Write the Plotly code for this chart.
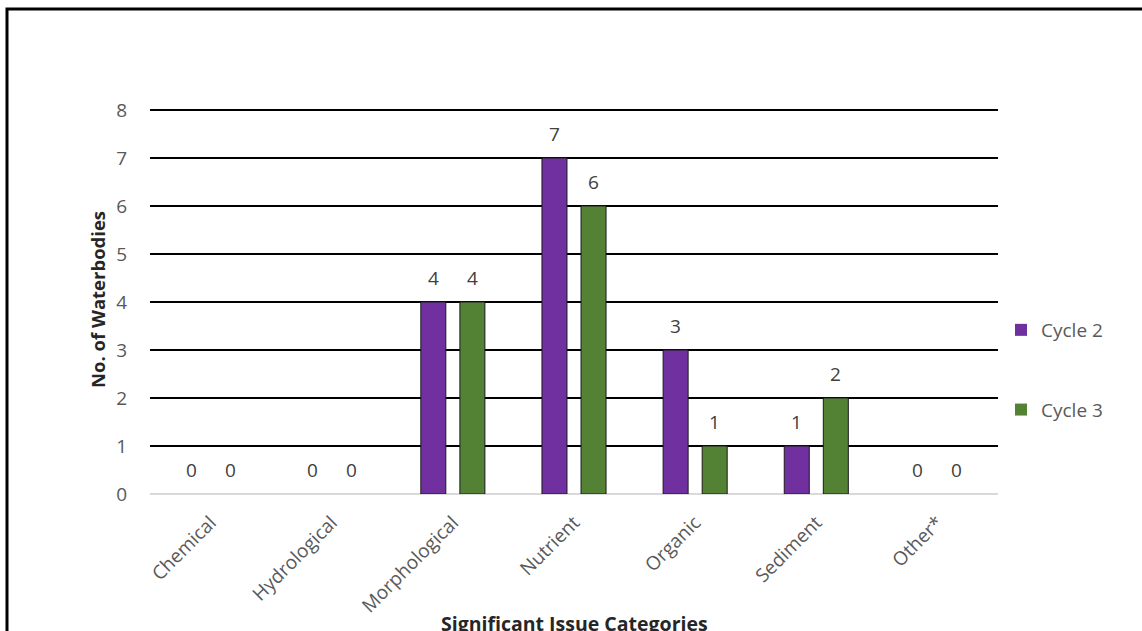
import plotly.graph_objects as go

categories = ["Chemical", "Hydrological", "Morphological", "Nutrient", "Organic", "Sediment", "Other*"]
cycle2 = [0, 0, 4, 7, 3, 1, 0]
cycle3 = [0, 0, 4, 6, 1, 2, 0]
y_ticks = [0, 1, 2, 3, 4, 5, 6, 7, 8]

FONT = "Open Sans"
W, H = 1142, 631
L, R, T, B = 150, 144, 105, 137
pw, ph = W - L - R, H - T - B
Y_TOP = 8 + 5 / 48.0

def px_x(x):
    return (x - L) / pw

def px_y(y):
    return (H - B - y) / ph

series = [("Cycle 2", cycle2, "#7030A0", -19.5), ("Cycle 3", cycle3, "#548235", 19.5)]

fig = go.Figure()
annotations = []
for name, vals, color, shift in series:
    fig.add_trace(go.Bar(
        x=categories, y=vals, name=name, legendgroup=name,
        marker=dict(color=color,
                    line=dict(color="#1a1a1a", width=[0 if v == 0 else 1 for v in vals])),
    ))
    for c, v in zip(categories, vals):
        annotations.append(dict(
            x=c, y=v, xref="x", yref="y", text=str(v), showarrow=False,
            xanchor="center", yanchor="bottom", xshift=shift, yshift=9,
            font=dict(family=FONT, size=19, color="#404040"),
        ))

annotations += [
    dict(text="<b>No. of Waterbodies</b>", xref="paper", yref="paper",
         x=px_x(97), y=px_y(300), xanchor="center", yanchor="middle",
         textangle=-90, showarrow=False,
         font=dict(family=FONT, size=18.5, color="#262626")),
    dict(text="<b>Significant Issue Categories</b>", xref="paper", yref="paper",
         x=0.5, y=px_y(608), xanchor="center", yanchor="top",
         showarrow=False,
         font=dict(family=FONT, size=19.5, color="#262626")),
]

fig.update_layout(
    width=W, height=H,
    margin=dict(l=L, r=R, t=T, b=B, autoexpand=False),
    paper_bgcolor="white", plot_bgcolor="white",
    barmode="group", bargap=0.355, bargroupgap=0.36,
    font=dict(family=FONT, size=19, color="#595959"),
    legend=dict(
        x=px_x(1001), y=px_y(311), xanchor="left", yanchor="top",
        font=dict(family=FONT, size=19, color="#595959"),
        tracegroupgap=52, itemwidth=30,
    ),
    xaxis=dict(
        tickangle=-45, showgrid=False, showline=False, zeroline=False,
        ticks="outside", ticklen=9, tickcolor="white",
        tickfont=dict(family=FONT, size=19, color="#595959"),
    ),
    yaxis=dict(
        range=[0, Y_TOP], tickvals=y_ticks, ticktext=[str(v) for v in y_ticks],
        showgrid=True, gridcolor="black", gridwidth=2,
        zeroline=True, zerolinecolor="#d9d9d9", zerolinewidth=2,
        showline=False, ticks="outside", ticklen=18, tickcolor="white",
        tickfont=dict(family=FONT, size=19, color="#595959"),
    ),
    annotations=annotations,
    shapes=[
        dict(type="rect", xref="paper", yref="paper",
             x0=px_x(7), y0=-1.0, x1=2.0, y1=px_y(9),
             line=dict(color="black", width=3), fillcolor="rgba(0,0,0,0)",
             layer="above"),
    ],
)

fig.write_html("out.html", config={"displayModeBar": False},
               post_script="document.body.style.margin='0';")
